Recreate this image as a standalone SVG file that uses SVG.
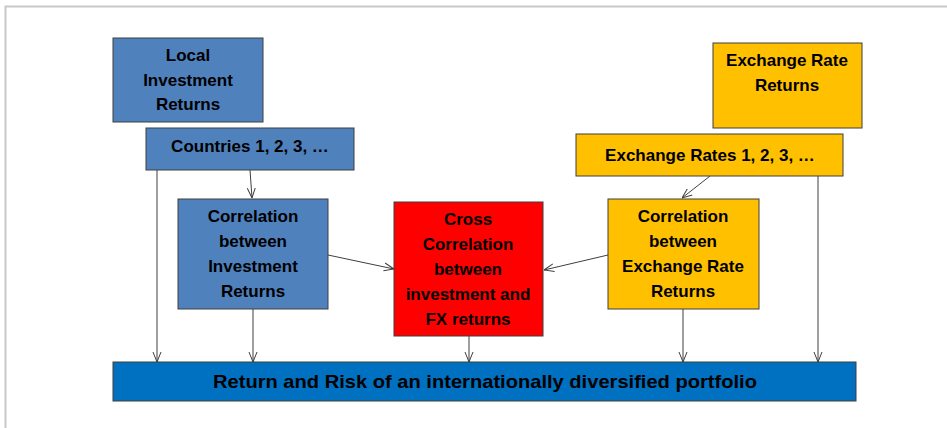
<svg xmlns="http://www.w3.org/2000/svg" width="947" height="428" viewBox="0 0 947 428">
<style>
.box{stroke:#3f3f3f;stroke-width:1}
.blue{fill:#4f81bd}
.yel{fill:#ffc000}
.red{fill:#ff0000}
.dblue{fill:#0070c0}
text{font-family:"Liberation Sans",Arial,sans-serif;font-weight:bold;font-size:17px;fill:#000;text-anchor:middle}
.conn line{stroke:#3f3f3f;stroke-width:1;fill:none;marker-end:url(#arr)}
</style>
<defs>
<marker id="arr" viewBox="0 0 10 10" refX="10" refY="5" markerWidth="10" markerHeight="10" markerUnits="userSpaceOnUse" orient="auto">
<path d="M0,1 L10,5 L0,9" fill="none" stroke="#3f3f3f" stroke-width="1"/>
</marker>
</defs>
<rect width="947" height="428" fill="#fff"/>
<path d="M5.5,428 V6.5 H947" fill="none" stroke="#c8c8c8" stroke-width="2"/>
<g class="conn">
<line x1="157" y1="170" x2="157" y2="362"/>
<line x1="250" y1="170" x2="252" y2="198"/>
<line x1="253" y1="309" x2="253" y2="362"/>
<line x1="328" y1="255" x2="394" y2="269"/>
<line x1="608" y1="255" x2="544" y2="270"/>
<line x1="710" y1="176" x2="682" y2="198"/>
<line x1="683" y1="309" x2="683" y2="362"/>
<line x1="818" y1="176" x2="818" y2="362"/>
<line x1="469" y1="336" x2="469" y2="362"/>
</g>
<g id="local">
<rect class="box blue" x="113" y="38" width="150" height="84"/>
<text x="188" y="61">Local</text>
<text x="188" y="86">Investment</text>
<text x="188" y="110">Returns</text>
</g>
<g id="countries">
<rect class="box blue" x="146" y="128" width="208" height="42"/>
<text x="250" y="152">Countries 1, 2, 3, …</text>
</g>
<g id="fxreturns">
<rect class="box yel" x="713" y="43" width="149" height="85"/>
<text x="787" y="66">Exchange Rate</text>
<text x="787" y="91">Returns</text>
</g>
<g id="fxrates">
<rect class="box yel" x="576" y="134" width="267" height="42"/>
<text x="710" y="161">Exchange Rates 1, 2, 3, …</text>
</g>
<g id="corrinv">
<rect class="box blue" x="178" y="199" width="150" height="110"/>
<text x="253" y="222">Correlation</text>
<text x="253" y="247">between</text>
<text x="253" y="272">Investment</text>
<text x="253" y="297">Returns</text>
</g>
<g id="cross">
<rect class="box red" x="394" y="202" width="149" height="134"/>
<text x="468" y="225">Cross</text>
<text x="468" y="250">Correlation</text>
<text x="468" y="275">between</text>
<text x="468" y="300">investment and</text>
<text x="468" y="325">FX returns</text>
</g>
<g id="corrfx">
<rect class="box yel" x="608" y="199" width="151" height="110"/>
<text x="683" y="222">Correlation</text>
<text x="683" y="247">between</text>
<text x="683" y="272">Exchange Rate</text>
<text x="683" y="297">Returns</text>
</g>
<g id="portfolio">
<rect class="box dblue" x="113" y="362" width="743" height="39"/>
<text x="485" y="388" style="font-size:19px" textLength="544" lengthAdjust="spacingAndGlyphs">Return and Risk of an internationally diversified portfolio</text>
</g>
</svg>
